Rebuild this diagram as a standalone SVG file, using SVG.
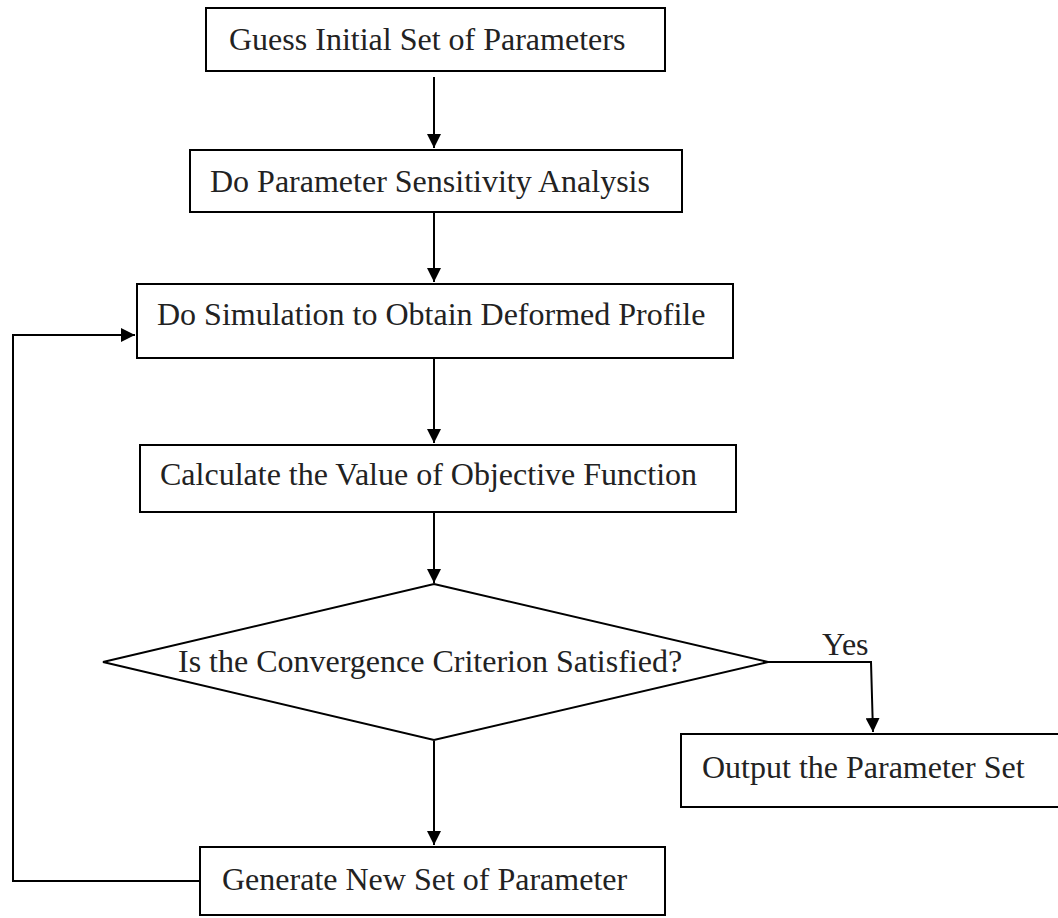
<svg xmlns="http://www.w3.org/2000/svg" width="1058" height="918" viewBox="0 0 1058 918">
<style>
.box{fill:#fff;stroke:#000;stroke-width:2}
.t{font-family:"Liberation Serif","Times New Roman",serif;font-size:32px;fill:#222}
.c{fill:none;stroke:#000;stroke-width:2}
</style>
<defs>
<marker id="ah" viewBox="0 0 14 14" refX="14" refY="7" markerWidth="14" markerHeight="14" markerUnits="userSpaceOnUse" orient="auto">
<path d="M0,0 L14,7 L0,14 Z" fill="#000"/>
</marker>
</defs>
<rect width="1058" height="918" fill="#fff"/>
<g id="connectors">
<line class="c" x1="434" y1="77" x2="434" y2="148" marker-end="url(#ah)"/>
<line class="c" x1="434" y1="212" x2="434" y2="282" marker-end="url(#ah)"/>
<line class="c" x1="434" y1="358" x2="434" y2="443" marker-end="url(#ah)"/>
<line class="c" x1="434" y1="512" x2="434" y2="583" marker-end="url(#ah)"/>
<line class="c" x1="434" y1="741" x2="434" y2="845" marker-end="url(#ah)"/>
<polyline class="c" points="768,662 871,662 873,732" marker-end="url(#ah)"/>
<polyline class="c" points="200,881 13,881 13,335 135,335" marker-end="url(#ah)"/>
<text class="t" x="822" y="655">Yes</text>
</g>
<g id="n1"><rect class="box" x="206" y="8" width="459" height="63"/><text class="t" x="229" y="50">Guess Initial Set of Parameters</text></g>
<g id="n2"><rect class="box" x="190" y="150" width="492" height="62"/><text class="t" x="210" y="192">Do Parameter Sensitivity Analysis</text></g>
<g id="n3"><rect class="box" x="137" y="284" width="596" height="74"/><text class="t" x="157" y="325">Do Simulation to Obtain Deformed Profile</text></g>
<g id="n4"><rect class="box" x="140" y="445" width="596" height="67"/><text class="t" x="160" y="485">Calculate the Value of Objective Function</text></g>
<g id="n5"><polygon class="box" points="434,584 768,662 434,740 103,662"/><text class="t" x="178" y="672">Is the Convergence Criterion Satisfied?</text></g>
<g id="n6"><rect class="box" x="681" y="734" width="400" height="73"/><text class="t" x="702" y="778">Output the Parameter Set</text></g>
<g id="n7"><rect class="box" x="200" y="847" width="465" height="68"/><text class="t" x="222" y="890">Generate New Set of Parameter</text></g>
</svg>
